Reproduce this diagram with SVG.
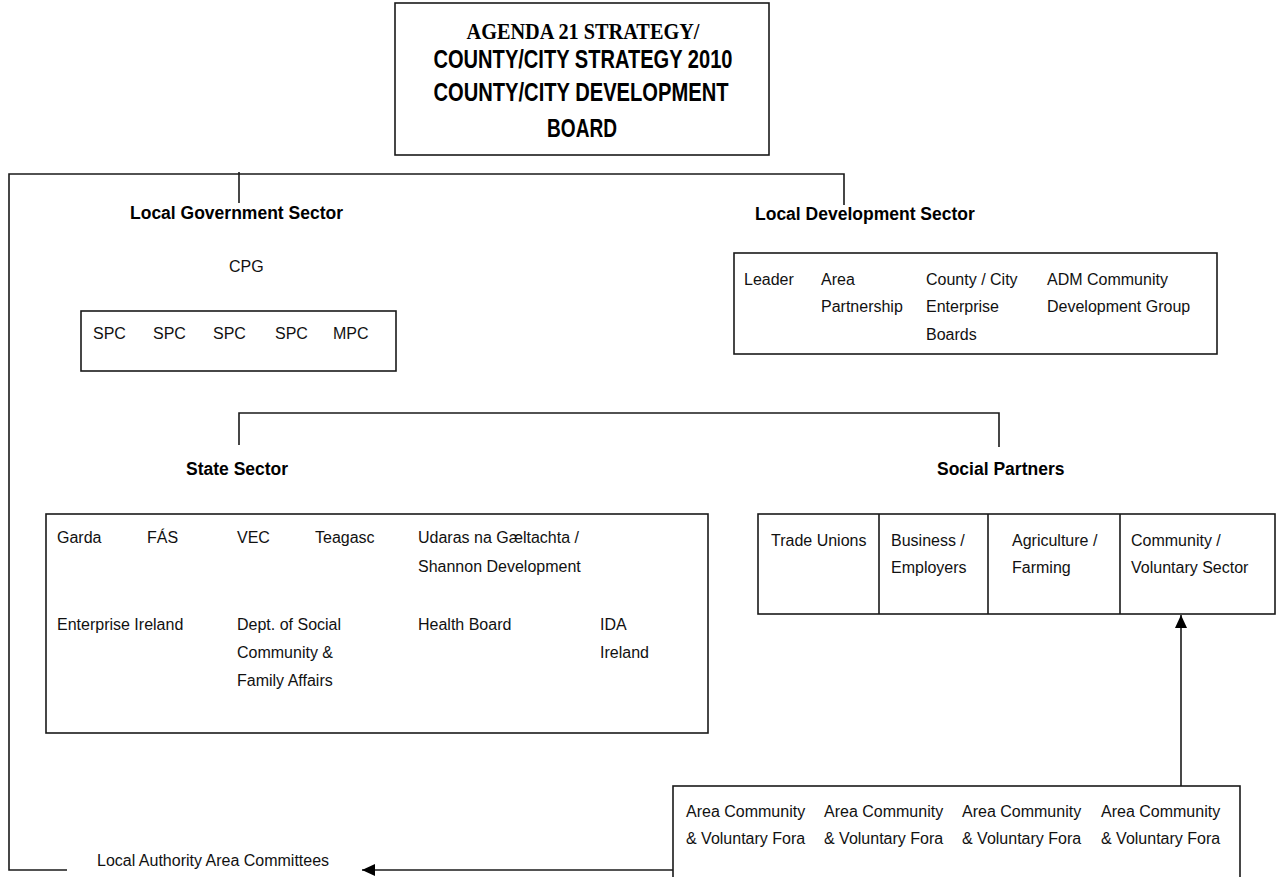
<svg xmlns="http://www.w3.org/2000/svg" width="1280" height="877" viewBox="0 0 1280 877">
<style>
.box{fill:#fff;stroke:#1a1a1a;stroke-width:1.6}
.ln{fill:none;stroke:#1a1a1a;stroke-width:1.6}
.t{font-family:"Liberation Sans",Arial,sans-serif;font-size:16px;fill:#111}
.h{font-family:"Liberation Sans",Arial,sans-serif;font-size:17.5px;font-weight:bold;fill:#000}
.tb{font-family:"Liberation Sans",Arial,sans-serif;font-size:25px;font-weight:bold;fill:#000}
.ts{font-family:"Liberation Serif","Times New Roman",serif;font-size:24px;font-weight:bold;fill:#000}
</style>
<defs>
<marker id="arr" markerUnits="userSpaceOnUse" markerWidth="14" markerHeight="12" refX="13" refY="6" orient="auto">
<path d="M0,0 L13,6 L0,12 z" fill="#000"/>
</marker>
</defs>
<rect width="1280" height="877" fill="#fff"/>

<g id="connectors">
<path class="ln" d="M67,870 H9 V174 H844 V205"/>
<path class="ln" d="M239,172 V203"/>
<path class="ln" d="M239,445 V413 H999 V447"/>
<path class="ln" d="M673,870 H362" marker-end="url(#arr)"/>
<path class="ln" d="M1181,786 V615" marker-end="url(#arr)"/>
</g>

<g id="board">
<rect class="box" x="395" y="3" width="374" height="152"/>
<text class="ts" x="583" y="39" text-anchor="middle" textLength="233" lengthAdjust="spacingAndGlyphs">AGENDA 21 STRATEGY/</text>
<text class="tb" x="583" y="68" text-anchor="middle" textLength="299" lengthAdjust="spacingAndGlyphs">COUNTY/CITY STRATEGY 2010</text>
<text class="tb" x="581" y="101" text-anchor="middle" textLength="295" lengthAdjust="spacingAndGlyphs">COUNTY/CITY DEVELOPMENT</text>
<text class="tb" x="582" y="137" text-anchor="middle" textLength="70" lengthAdjust="spacingAndGlyphs">BOARD</text>
</g>

<g id="local-government">
<text class="h" x="130" y="219">Local Government Sector</text>
<text class="t" x="229" y="272">CPG</text>
<rect class="box" x="81" y="311" width="315" height="60"/>
<text class="t" x="93" y="339">SPC</text>
<text class="t" x="153" y="339">SPC</text>
<text class="t" x="213" y="339">SPC</text>
<text class="t" x="275" y="339">SPC</text>
<text class="t" x="333" y="339">MPC</text>
</g>

<g id="local-development">
<text class="h" x="755" y="220">Local Development Sector</text>
<rect class="box" x="734" y="253" width="483" height="101"/>
<text class="t" x="744" y="285">Leader</text>
<text class="t" x="821" y="285">Area</text>
<text class="t" x="821" y="312">Partnership</text>
<text class="t" x="926" y="285">County / City</text>
<text class="t" x="926" y="312">Enterprise</text>
<text class="t" x="926" y="340">Boards</text>
<text class="t" x="1047" y="285">ADM Community</text>
<text class="t" x="1047" y="312">Development Group</text>
</g>

<g id="state-sector">
<text class="h" x="186" y="475">State Sector</text>
<rect class="box" x="46" y="514" width="662" height="219"/>
<text class="t" x="57" y="543">Garda</text>
<text class="t" x="147" y="543">FÁS</text>
<text class="t" x="237" y="543">VEC</text>
<text class="t" x="315" y="543">Teagasc</text>
<text class="t" x="418" y="543">Udaras na Gæltachta /</text>
<text class="t" x="418" y="572">Shannon Development</text>
<text class="t" x="57" y="630">Enterprise Ireland</text>
<text class="t" x="237" y="630">Dept. of Social</text>
<text class="t" x="237" y="658">Community &amp;</text>
<text class="t" x="237" y="686">Family Affairs</text>
<text class="t" x="418" y="630">Health Board</text>
<text class="t" x="600" y="630">IDA</text>
<text class="t" x="600" y="658">Ireland</text>
</g>

<g id="social-partners">
<text class="h" x="937" y="475">Social Partners</text>
<rect class="box" x="758" y="514" width="517" height="100"/>
<path class="ln" d="M879,514 V614 M988,514 V614 M1120,514 V614"/>
<text class="t" x="771" y="546">Trade Unions</text>
<text class="t" x="891" y="546">Business /</text>
<text class="t" x="891" y="573">Employers</text>
<text class="t" x="1012" y="546">Agriculture /</text>
<text class="t" x="1012" y="573">Farming</text>
<text class="t" x="1131" y="546">Community /</text>
<text class="t" x="1131" y="573">Voluntary Sector</text>
</g>

<g id="area-fora">
<rect class="box" x="673" y="786" width="567" height="100"/>
<text class="t" x="686" y="817">Area Community</text>
<text class="t" x="686" y="844">&amp; Voluntary Fora</text>
<text class="t" x="824" y="817">Area Community</text>
<text class="t" x="824" y="844">&amp; Voluntary Fora</text>
<text class="t" x="962" y="817">Area Community</text>
<text class="t" x="962" y="844">&amp; Voluntary Fora</text>
<text class="t" x="1101" y="817">Area Community</text>
<text class="t" x="1101" y="844">&amp; Voluntary Fora</text>
</g>

<g id="area-committees">
<text class="t" x="97" y="866">Local Authority Area Committees</text>
</g>
</svg>
